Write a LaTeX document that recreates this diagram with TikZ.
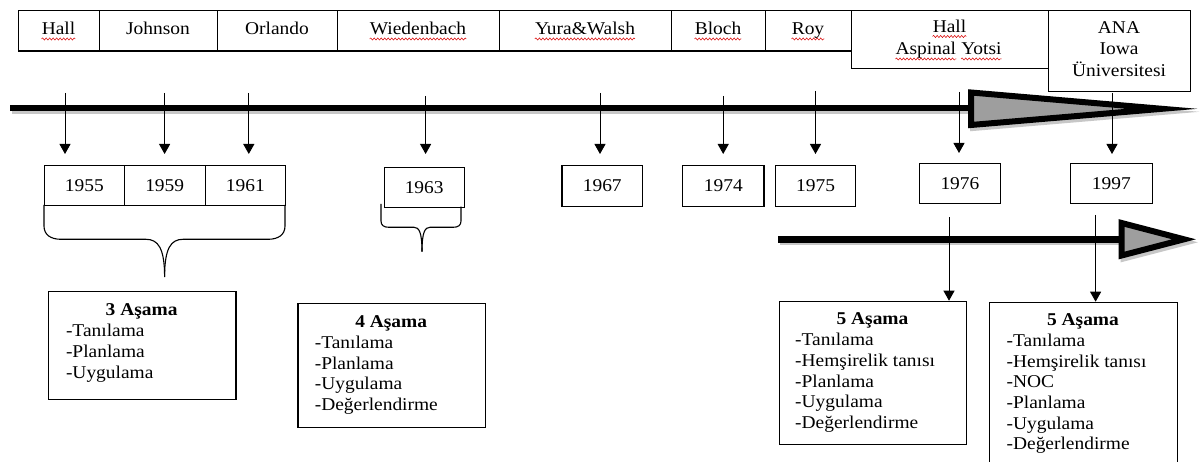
\documentclass[tikz,border=0pt]{standalone}
\usepackage{fontspec}
\setmainfont{Liberation Serif}[FakeStretch=1.08]
\usetikzlibrary{arrows.meta,decorations.pathmorphing}
\begin{document}
\begin{tikzpicture}[x=1pt,y=-1pt,
  every node/.style={font=\fontsize{18}{20.7}\selectfont},
  box/.style={draw, line width=1.1pt, inner sep=0pt, anchor=north west},
  txt/.style={inner sep=0pt, anchor=base},
  ltxt/.style={inner sep=0pt, anchor=base west},
  squig/.style={draw=red!85!black, line width=0.5pt, decorate, decoration={snake, amplitude=1.1pt, segment length=3.5pt}},
  sq/.style={append after command={([yshift=-4pt]\tikzlastnode.base west) edge[squig] ([yshift=-4pt]\tikzlastnode.base east)}},
  arr/.style={line width=1pt, -{Triangle[width=11pt,length=10pt]}},
  brace/.style={line width=1.1pt},
  bigline/.style={line width=6.7pt},
  bighead/.style={line width=6pt, line join=miter, miter limit=25, draw=black, fill=black!38},
  shadow/.style={draw=black!22, fill=black!22},
]
\useasboundingbox (0,0) rectangle (1200,462);
\clip (0,0) rectangle (1200,462);
\fill[white] (0,0) rectangle (1200,462);

% ---------- top row of names ----------
\node[box, minimum width=81pt,  minimum height=40.5pt] (nHall)  at (18,10)  {};
\node[box, minimum width=118pt, minimum height=40.5pt] (nJohn)  at (99,10)  {};
\node[box, minimum width=120pt, minimum height=40.5pt] (nOrl)   at (217,10) {};
\node[box, minimum width=162pt, minimum height=40.5pt] (nWied)  at (337,10) {};
\node[box, minimum width=172pt, minimum height=40.5pt] (nYura)  at (499,10) {};
\node[box, minimum width=94pt,  minimum height=40.5pt] (nBloch) at (671,10) {};
\node[box, minimum width=86pt,  minimum height=40.5pt] (nRoy)   at (765,10) {};
\node[box, minimum width=197pt, minimum height=58pt]   (nHAY)   at (851,10) {};
\node[box, minimum width=142pt, minimum height=81pt]   (nANA)   at (1048,10) {};

\node[txt, sq] (tHall)  at (58.5,35) {Hall};
\node[txt]     (tJohn)  at (158,35)  {Johnson};
\node[txt]     (tOrl)   at (277,35)  {Orlando};
\node[txt, sq] (tWied)  at (418,35)  {Wiedenbach};
\node[txt, sq] (tYura)  at (585,35)  {Yura\&Walsh};
\node[txt, sq] (tBloch) at (718,35)  {Bloch};
\node[txt, sq] (tRoy)   at (808,35)  {Roy};
\node[txt, sq] (tHall2) at (949.5,32.5) {Hall};
\node[inner sep=0pt, anchor=base east, sq] (tAsp) at (956.3,55) {Aspinal};
\node[inner sep=0pt, anchor=base west, sq] (tYot) at (961.1,55) {Yotsi};
\node[txt] (tANA)  at (1119,33.5) {ANA};
\node[txt] (tIowa) at (1119,55)   {Iowa};
\node[txt] (tUni)  at (1119,76.5) {Üniversitesi};

% ---------- main time axis ----------
\draw[bigline, draw=black!22] (12,110.5) -- (975,110.5);
\draw[shadow, line width=6pt, line join=miter, miter limit=25] (973,95.5) -- (973,128) -- (1164,111.8) -- cycle;
\draw[bigline] (10,108) -- (975,108);
\draw[bighead] (971,92.5) -- (971,125) -- (1162,108.8) -- cycle;

% ---------- second axis ----------
\draw[bigline, draw=black!22] (780,241.8) -- (1125,241.8);
\draw[shadow, line width=6pt, line join=miter, miter limit=25] (1123.6,226) -- (1123.6,258.5) -- (1186,242.3) -- cycle;
\draw[bigline] (778,239.3) -- (1125,239.3);
\draw[bighead] (1121.6,223) -- (1121.6,255.5) -- (1184,239.3) -- cycle;

% ---------- year boxes ----------
\node[box, minimum width=79.6pt, minimum height=40pt] (y55) at (44,165)    {1955};
\node[box, minimum width=81.1pt, minimum height=40pt] (y59) at (123.6,165) {1959};
\node[box, minimum width=80.3pt, minimum height=40pt] (y61) at (204.7,165) {1961};
\node[box, minimum width=80.3pt, minimum height=40pt] (y63) at (383.5,166.7) {1963};
\node[box, minimum width=80.6pt, minimum height=40.7pt] (y67) at (561.4,165) {1967};
\node[box, minimum width=81.1pt, minimum height=40.7pt] (y74) at (682.3,165) {1974};
\node[box, minimum width=80.4pt, minimum height=40.7pt] (y75) at (774.9,165) {1975};
\node[box, minimum width=81.2pt, minimum height=40.6pt] (y76) at (918.8,162.7) {1976};
\node[box, minimum width=81.5pt, minimum height=40.6pt] (y97) at (1070,162.7) {1997};

% ---------- braces ----------
\draw[brace] (44,205) -- (44,226) .. controls (44,235) and (51,239.3) .. (61,239.3) -- (146,239.3) .. controls (158,239.3) and (164.6,248) .. (164.6,277);
\draw[brace] (285,205) -- (285,226) .. controls (285,235) and (278,239.3) .. (268,239.3) -- (183,239.3) .. controls (171,239.3) and (164.6,248) .. (164.6,277);
\draw[brace] (381,204) -- (381,221) .. controls (381,225.5) and (384,227.3) .. (389,227.3) -- (414,227.3) .. controls (419,227.3) and (422,232) .. (422,251.7);
\draw[brace] (461,206.7) -- (461,221) .. controls (461,225.5) and (458,227.3) .. (453,227.3) -- (430,227.3) .. controls (425,227.3) and (422,232) .. (422,251.7);

% ---------- stage boxes ----------
\node[box, minimum width=187.6pt, minimum height=108.3pt] (b3)  at (47.8,290.7)  {};
\node[box, minimum width=187.5pt, minimum height=124pt]   (b4)  at (297.4,302.7) {};
\node[box, minimum width=187pt,   minimum height=142.8pt] (b5a) at (779,300.7)   {};
\node[box, minimum width=187.5pt, minimum height=173pt]   (b5b) at (989.2,301.7) {};

\node[txt, font=\fontsize{18}{20.7}\selectfont\bfseries] (h3) at (141.6,316) {3 Aşama};
\foreach \t [count=\i] in {-Tanılama,-Planlama,-Uygulama}
  \node[ltxt] (l3-\i) at (65.8,{316+20.7*\i}) {\t};

\node[txt, font=\fontsize{18}{20.7}\selectfont\bfseries] (h4) at (391.2,327.7) {4 Aşama};
\foreach \t [count=\i] in {-Tanılama,-Planlama,-Uygulama,-Değerlendirme}
  \node[ltxt] (l4-\i) at (314.6,{327.7+20.7*\i}) {\t};

\node[txt, font=\fontsize{18}{20.7}\selectfont\bfseries] (h5a) at (872.5,325) {5 Aşama};
\foreach \t [count=\i] in {-Tanılama,-Hemşirelik tanısı,-Planlama,-Uygulama,-Değerlendirme}
  \node[ltxt] (l5a-\i) at (795,{325+20.7*\i}) {\t};

\node[txt, font=\fontsize{18}{20.7}\selectfont\bfseries] (h5b) at (1083,325.7) {5 Aşama};
\foreach \t [count=\i] in {-Tanılama,-Hemşirelik tanısı,-NOC,-Planlama,-Uygulama,-Değerlendirme}
  \node[ltxt] (l5b-\i) at (1006.4,{325.7+20.7*\i}) {\t};

% ---------- vertical arrows from the axis ----------
\coordinate (s1) at (65,93);     \coordinate (e1) at (65,154);
\coordinate (s2) at (164.6,93);  \coordinate (e2) at (164.6,154);
\coordinate (s3) at (248.8,93);  \coordinate (e3) at (248.8,154);
\coordinate (s4) at (425.6,96);  \coordinate (e4) at (425.6,154);
\coordinate (s5) at (600,93);    \coordinate (e5) at (600,154);
\coordinate (s6) at (723.2,96);  \coordinate (e6) at (723.2,154);
\coordinate (s7) at (815.5,91);  \coordinate (e7) at (815.5,154);
\coordinate (s8) at (959,92);    \coordinate (e8) at (959,153);
\coordinate (s9) at (1112,93);   \coordinate (e9) at (1112,154);
\foreach \k in {1,...,9} \draw[arr] (s\k) -- (e\k);

\coordinate (u1) at (949,217.3);
\coordinate (u2) at (1095.6,215);
\draw[arr] (u1) -- (u1 |- b5a.north);
\draw[arr] (u2) -- (u2 |- b5b.north);
\end{tikzpicture}
\end{document}
